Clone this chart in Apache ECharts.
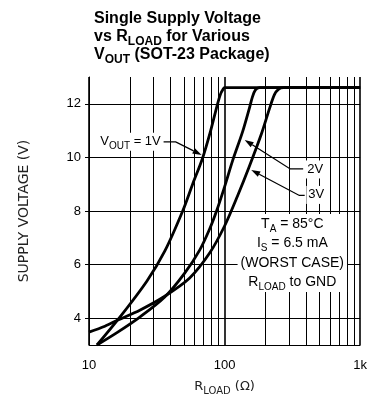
<!DOCTYPE html>
<html>
<head>
<meta charset="utf-8">
<script src="https://cdn.jsdelivr.net/npm/echarts@6/dist/echarts.min.js"></script>
<style>
html, body { margin: 0; padding: 0; background: #fff; }
#main { width: 370px; height: 414px; }
</style>
</head>
<body>
<div id="main"></div>
<script>
// R_LOAD (ohm) and supply voltage (V)
var r1V = [11.45, 16.9, 26.7, 36.2, 49.1, 58.2, 68.9, 78.9, 88.8, 93.5, 97, 100, 1000];
var v1V = [3.0, 4.04, 5.38, 6.5, 8.0, 9.01, 9.98, 10.99, 12.0, 12.37, 12.52, 12.6, 12.6];

var r2V = [11.45, 16.3, 23.7, 36.2, 50.8, 65.5, 77.6, 87.3, 100, 114.5, 135.7, 152.7, 160.6, 169, 181, 1000];
var v2V = [3.0, 3.48, 4.04, 4.79, 5.68, 6.54, 7.33, 8.0, 8.9, 9.87, 10.95, 11.85, 12.26, 12.52, 12.6, 12.6];

var r3V = [10, 13.1, 16.3, 23.7, 36.2, 55.3, 77.6, 100, 124.6, 152.7, 187.1, 214.2, 233.2, 249.5, 272, 1000];
var v3V = [3.48, 3.7, 3.93, 4.3, 4.82, 5.5, 6.43, 7.44, 8.56, 9.68, 10.88, 11.81, 12.34, 12.54, 12.6, 12.6];

var xTicks = [10, 100, 1000];
var xTickLabels = ['10', '100', '1k'];
var minorR = [20, 30, 40, 50, 60, 70, 80, 90, 200, 300, 400, 500, 600, 700, 800, 900];
var yTicks = [4, 6, 8, 10, 12];

var chart = echarts.init(document.getElementById('main'));

function pairs(r, v) {
	return r.map(function (x, i) { return [x, v[i]]; });
}

var curveStyle = { color: '#000', width: 2.8 };

var option = {
	animation: false,
	title: {
		left: 89,
		top: 5,
		text: '{b|Single Supply Voltage}\n{b|vs R}{s|LOAD}{b| for Various}\n{b|V}{s|OUT}{b| (SOT-23 Package)}',
		textStyle: {
			rich: {
				b: { fontSize: 16, fontWeight: 'bold', fontFamily: 'Liberation Sans', color: '#000', lineHeight: 18 },
				s: { fontSize: 12, fontWeight: 'bold', fontFamily: 'Liberation Sans', color: '#000', lineHeight: 9, padding: [9, 0, 0, 0] }
			}
		}
	},
	grid: { left: 89, right: 9, top: 77, bottom: 69 },
	xAxis: {
		type: 'log',
		logBase: 10,
		min: 10,
		max: 1000,
		axisLine: { lineStyle: { color: '#000', width: 1 } },
		axisTick: { show: false },
		axisLabel: {
			color: '#000',
			fontSize: 13,
			fontFamily: 'Liberation Sans',
			margin: 14,
			formatter: function (v) {
				var i = xTicks.indexOf(Math.round(v));
				return i >= 0 ? xTickLabels[i] : '';
			}
		},
		splitLine: { show: true, lineStyle: { color: '#000', width: 1.6 } },
		name: '{r|R}{s|LOAD}{r| (Ω)}',
		nameLocation: 'middle',
		nameGap: 34,
		nameTextStyle: {
			rich: {
				r: { fontSize: 13, fontFamily: 'DejaVu Sans', color: '#222', lineHeight: 16 },
				s: { fontSize: 10, fontFamily: 'DejaVu Sans', color: '#222', lineHeight: 8, padding: [8, 0, 0, 0] }
			}
		}
	},
	yAxis: {
		type: 'value',
		min: 3,
		max: 13,
		interval: 1,
		axisLine: { show: true, lineStyle: { color: '#000', width: 1 } },
		axisTick: { show: true, customValues: yTicks, length: 4, lineStyle: { color: '#000' } },
		axisLabel: { customValues: yTicks, color: '#000', fontSize: 13, fontFamily: 'Liberation Sans', margin: 8 },
		splitLine: { show: true, lineStyle: { color: '#000', width: 1 } },
		name: 'SUPPLY VOLTAGE (V)',
		nameLocation: 'middle',
		nameRotate: 90,
		nameGap: 58,
		nameTextStyle: { fontSize: 14, fontFamily: 'DejaVu Sans', color: '#222' }
	},
	series: [
		{
			name: '1V', type: 'line', showSymbol: false, smooth: 0.3,
			lineStyle: curveStyle, data: pairs(r1V, v1V), z: 3,
			markLine: {
				silent: true,
				symbol: ['none', 'none'],
				label: { show: false },
				lineStyle: { color: '#000', width: 1, type: 'solid' },
				data: minorR.map(function (r) { return { xAxis: r }; })
			}
		},
		{ name: '2V', type: 'line', showSymbol: false, smooth: 0.3, lineStyle: curveStyle, data: pairs(r2V, v2V), z: 3 },
		{ name: '3V', type: 'line', showSymbol: false, smooth: 0.3, lineStyle: curveStyle, data: pairs(r3V, v3V), z: 3 }
	]
};
chart.setOption(option);

// annotations (anchored in data space)
function px(p) { return chart.convertToPixel({ xAxisIndex: 0, yAxisIndex: 0 }, p); }

var sub = { fontSize: 10, fontFamily: 'Liberation Sans', fill: '#000', lineHeight: 9, padding: [9, 0, 0, 0] };
var nrm = { fontSize: 13, fontFamily: 'Liberation Sans', fill: '#000', lineHeight: 18 };

function label(at, text, align) {
	var p = px(at);
	return {
		type: 'text', x: p[0], y: p[1], z: 50,
		style: {
			text: text, align: align, verticalAlign: 'middle',
			rich: { n: nrm, s: sub },
			backgroundColor: '#fff', padding: [0, 2]
		}
	};
}

function leader(from, knee, tip) {
	var a = px(from), k = px(knee), t = px(tip);
	var dx = t[0] - k[0], dy = t[1] - k[1];
	var L = Math.sqrt(dx * dx + dy * dy);
	var ux = dx / L, uy = dy / L;
	var len = 9, hw = 3;
	var bx = t[0] - ux * len, by = t[1] - uy * len;
	return [
		{ type: 'polyline', z: 60, shape: { points: [a, k, [bx, by]] }, style: { stroke: '#000', lineWidth: 1.3, fill: null } },
		{ type: 'polygon', z: 60, shape: { points: [t, [bx - uy * hw, by + ux * hw], [bx + uy * hw, by - ux * hw]] }, style: { fill: '#000' } }
	];
}

var blockStyle = {
	n: { fontSize: 14, fontFamily: 'Liberation Sans', fill: '#000', lineHeight: 19.5 },
	s: { fontSize: 10, fontFamily: 'Liberation Sans', fill: '#000', lineHeight: 9, padding: [10.5, 0, 0, 0] }
};
var blockAt = px([316, 6.43]);

var graphics = [
	label([35.0, 10.58], '{n|V}{s|OUT}{n| = 1V}', 'right'),
	label([394, 9.55], '{n|2V}', 'left'),
	label([401, 8.6], '{n|3V}', 'left'),
	{
		type: 'text', x: blockAt[0], y: blockAt[1], z: 50,
		style: {
			text: '{n|T}{s|A}{n| = 85°C}\n{n|I}{s|S}{n| = 6.5 mA}\n{n|(WORST CASE)}\n{n|R}{s|LOAD}{n| to GND}',
			align: 'center', verticalAlign: 'middle',
			rich: blockStyle,
			backgroundColor: '#fff', padding: [0, 3]
		}
	}
].concat(
	leader([35.5, 10.58], [43.6, 10.58], [67.7, 10.09]),
	leader([380, 9.57], [305, 9.57], [140.7, 10.65]),
	leader([390, 8.58], [356, 8.58], [157.4, 9.53])
);

chart.setOption({ graphic: graphics });

window.addEventListener('resize', function () {
	chart.resize();
});
</script>
</body>
</html>
